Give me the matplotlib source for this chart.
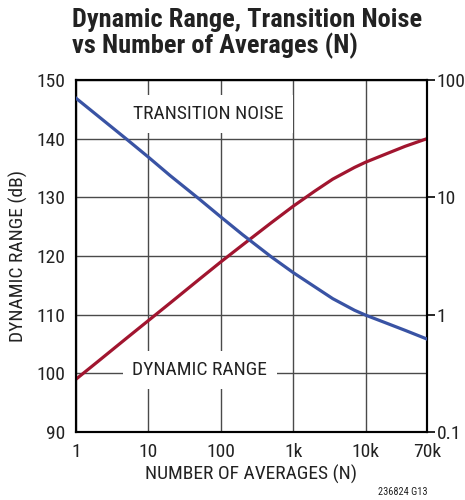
import numpy as np
import matplotlib
matplotlib.use("Agg")
import matplotlib.pyplot as plt

plt.rcParams['font.family'] = ['Roboto Condensed', 'Archivo Narrow', 'DejaVu Sans']
plt.rcParams['font.stretch'] = 'condensed'

# values
n_avg = [1, 2, 5, 10, 20, 50, 100, 200, 500, 1000, 2000, 3500, 7000, 10000, 20000, 35000, 70000]
dyn_range = [99, 102, 106, 109, 112, 116, 119, 121.9, 125.7, 128.5, 131.1, 133.1, 135.1, 136.0, 137.5, 138.7, 140.0]
trans_noise = [70, 49.5, 31.3, 22, 15.3, 9.7, 6.8, 4.8, 3.1, 2.28, 1.72, 1.37, 1.09, 0.99, 0.84, 0.735, 0.62]

x_ticks = [1, 10, 100, 1000, 10000, 70000]
x_labels = ['1', '10', '100', '1k', '10k', '70k']
y_ticks = [90, 100, 110, 120, 130, 140, 150]
y2_ticks = [0.1, 1, 10, 100]
y2_labels = ['0.1', '1', '10', '100']

red = '#a1152f'
blue = '#3953a4'
grid_c = '#4a4a4a'
text_c = '#222222'

fig = plt.figure(figsize=(4.65, 5.0), dpi=100)
ax = fig.add_axes([0.1634, 0.136, 0.7548, 0.704])

ax.set_xscale('log')
ax.set_xlim(1, 70000)
ax.set_ylim(90, 150)
ax.set_xticks(x_ticks)
ax.set_xticklabels(x_labels)
ax.xaxis.set_minor_locator(matplotlib.ticker.NullLocator())
ax.set_yticks(y_ticks)
ax.tick_params(length=0, labelsize=14, pad=8, labelcolor=text_c)
ax.grid(True, color=grid_c, lw=1.0)

ax.plot(n_avg, dyn_range, color=red, lw=2.3, zorder=4)

ax2 = ax.twinx()
ax2.set_yscale('log')
ax2.set_ylim(0.1, 100)
ax2.set_yticks(y2_ticks)
ax2.set_yticklabels(y2_labels)
ax2.yaxis.set_minor_locator(matplotlib.ticker.NullLocator())
ax2.tick_params(axis='y', length=6, width=1.2, labelsize=14, pad=1, labelcolor=text_c)
ax2.plot(n_avg, trans_noise, color=blue, lw=2.3, zorder=4)

for a in (ax, ax2):
    for s in a.spines.values():
        s.set_linewidth(1.5)
        s.set_color('black')

box = dict(boxstyle='square,pad=0.5', fc='white', ec='none')
ax.text(66, 144.2, 'TRANSITION NOISE', fontsize=14, ha='center', va='center',
        color=text_c, bbox=box, zorder=3)
ax.text(51, 100.6, 'DYNAMIC RANGE', fontsize=14, ha='center', va='center',
        color=text_c, bbox=box, zorder=3)

ax.set_xlabel('NUMBER OF AVERAGES (N)', fontsize=14, labelpad=3, color=text_c)
ax.set_ylabel('DYNAMIC RANGE (dB)', fontsize=14, labelpad=6, color=text_c)

fig.text(0.155, 0.984, 'Dynamic Range, Transition Noise\nvs Number of Averages (N)',
         fontsize=19, fontweight='bold', va='top', ha='left', linespacing=1.05,
         color=text_c, family=['Roboto Condensed', 'Barlow Semi Condensed', 'DejaVu Sans'])
fig.text(0.919, 0.006, '236824 G13', fontsize=7.5, ha='right', va='bottom', color=text_c)

fig.savefig('out.png', dpi=100)
